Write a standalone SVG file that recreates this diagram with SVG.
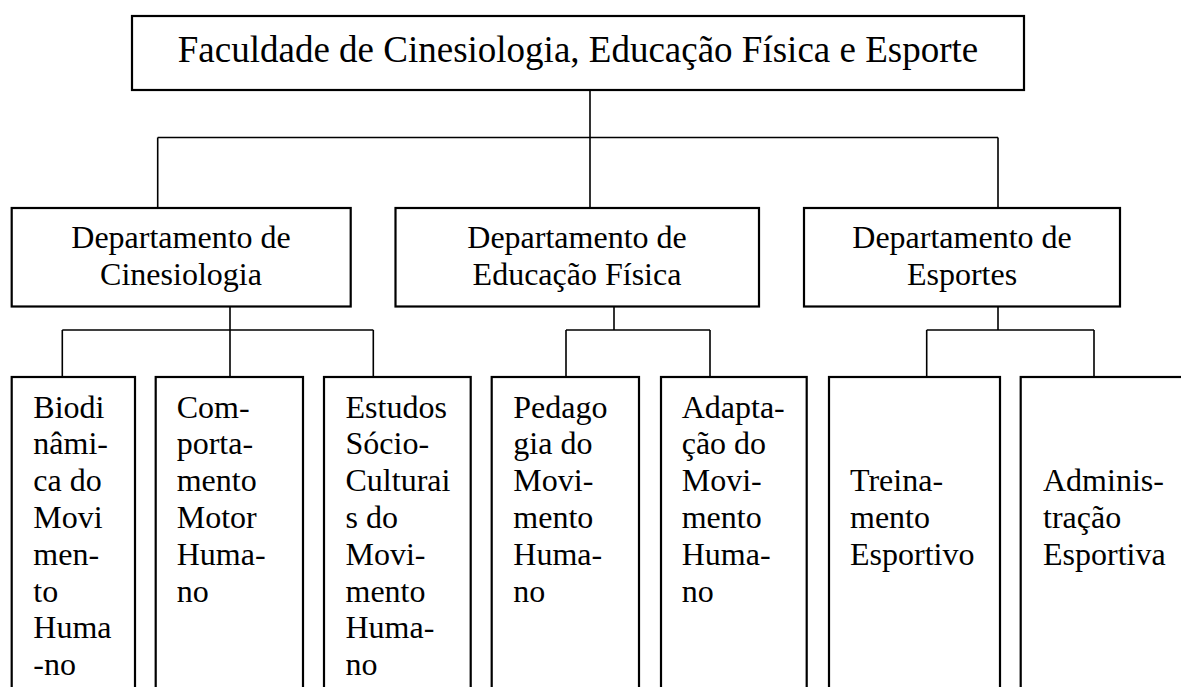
<svg xmlns="http://www.w3.org/2000/svg" width="1181" height="687" viewBox="0 0 1181 687">
<style>
.box{fill:#fff;stroke:#000;stroke-width:2.2}
.con{stroke:#000;stroke-width:1.6;fill:none}
text{font-family:"Liberation Serif","Times New Roman",serif;fill:#000}
.t{font-size:37px;text-anchor:middle}
.d{font-size:32px;text-anchor:middle}
.s{font-size:32px}
</style>
<rect width="1181" height="687" fill="#fff"/>
<g id="connectors">
<path class="con" d="M590 90V208M157.7 137.5H998M157.7 137.5V208M998 137.5V208"/>
<path class="con" d="M230 306V330M62.3 330H373.3M62.3 330V377M230 330V377M373.3 330V377"/>
<path class="con" d="M614 306V330M566 330H710M566 330V377M710 330V377"/>
<path class="con" d="M998 306V330M926.7 330H1094M926.7 330V377M1094 330V377"/>
</g>
<g id="faculdade">
<rect class="box" x="132" y="16" width="892" height="74"/>
<text class="t" x="578" y="62">Faculdade de Cinesiologia, Educação Física e Esporte</text>
</g>
<g id="dep-cinesiologia">
<rect class="box" x="11.7" y="208" width="339" height="98.5"/>
<text class="d" x="181" y="248">Departamento de</text>
<text class="d" x="181" y="285">Cinesiologia</text>
</g>
<g id="dep-educacao-fisica">
<rect class="box" x="395.5" y="208" width="363.5" height="98.5"/>
<text class="d" x="577" y="248">Departamento de</text>
<text class="d" x="577" y="285">Educação Física</text>
</g>
<g id="dep-esportes">
<rect class="box" x="804" y="208" width="316" height="98.5"/>
<text class="d" x="962" y="248">Departamento de</text>
<text class="d" x="962" y="285">Esportes</text>
</g>
<g id="biodinamica">
<rect class="box" x="11.7" y="377" width="123.3" height="330"/>
<text class="s" x="33.3" y="417.5">
<tspan x="33.3">Biodi</tspan><tspan x="33.3" dy="36.8">nâmi-</tspan><tspan x="33.3" dy="36.8">ca do</tspan><tspan x="33.3" dy="36.8">Movi</tspan><tspan x="33.3" dy="36.8">men-</tspan><tspan x="33.3" dy="36.8">to</tspan><tspan x="33.3" dy="36.8">Huma</tspan><tspan x="33.3" dy="36.8">-no</tspan>
</text>
</g>
<g id="comportamento">
<rect class="box" x="155.7" y="377" width="147.3" height="330"/>
<text class="s" x="176.7" y="417.5">
<tspan x="176.7">Com-</tspan><tspan x="176.7" dy="36.8">porta-</tspan><tspan x="176.7" dy="36.8">mento</tspan><tspan x="176.7" dy="36.8">Motor</tspan><tspan x="176.7" dy="36.8">Huma-</tspan><tspan x="176.7" dy="36.8">no</tspan>
</text>
</g>
<g id="estudos">
<rect class="box" x="324" y="377" width="146.7" height="330"/>
<text class="s" x="345.5" y="417.5">
<tspan x="345.5">Estudos</tspan><tspan x="345.5" dy="36.8">Sócio-</tspan><tspan x="345.5" dy="36.8">Culturai</tspan><tspan x="345.5" dy="36.8">s do</tspan><tspan x="345.5" dy="36.8">Movi-</tspan><tspan x="345.5" dy="36.8">mento</tspan><tspan x="345.5" dy="36.8">Huma-</tspan><tspan x="345.5" dy="36.8">no</tspan>
</text>
</g>
<g id="pedagogia">
<rect class="box" x="491.7" y="377" width="147.3" height="330"/>
<text class="s" x="513.3" y="417.5">
<tspan x="513.3">Pedago</tspan><tspan x="513.3" dy="36.8">gia do</tspan><tspan x="513.3" dy="36.8">Movi-</tspan><tspan x="513.3" dy="36.8">mento</tspan><tspan x="513.3" dy="36.8">Huma-</tspan><tspan x="513.3" dy="36.8">no</tspan>
</text>
</g>
<g id="adaptacao">
<rect class="box" x="661" y="377" width="145.7" height="330"/>
<text class="s" x="681.7" y="417.5">
<tspan x="681.7">Adapta-</tspan><tspan x="681.7" dy="36.8">ção do</tspan><tspan x="681.7" dy="36.8">Movi-</tspan><tspan x="681.7" dy="36.8">mento</tspan><tspan x="681.7" dy="36.8">Huma-</tspan><tspan x="681.7" dy="36.8">no</tspan>
</text>
</g>
<g id="treinamento">
<rect class="box" x="829" y="377" width="171" height="330"/>
<text class="s" x="850" y="491.1">
<tspan x="850">Treina-</tspan><tspan x="850" dy="36.8">mento</tspan><tspan x="850" dy="36.8">Esportivo</tspan>
</text>
</g>
<g id="administracao">
<rect class="box" x="1020.7" y="377" width="180" height="330"/>
<text class="s" x="1043" y="491.1">
<tspan x="1043">Adminis-</tspan><tspan x="1043" dy="36.8">tração</tspan><tspan x="1043" dy="36.8">Esportiva</tspan>
</text>
</g>
</svg>
